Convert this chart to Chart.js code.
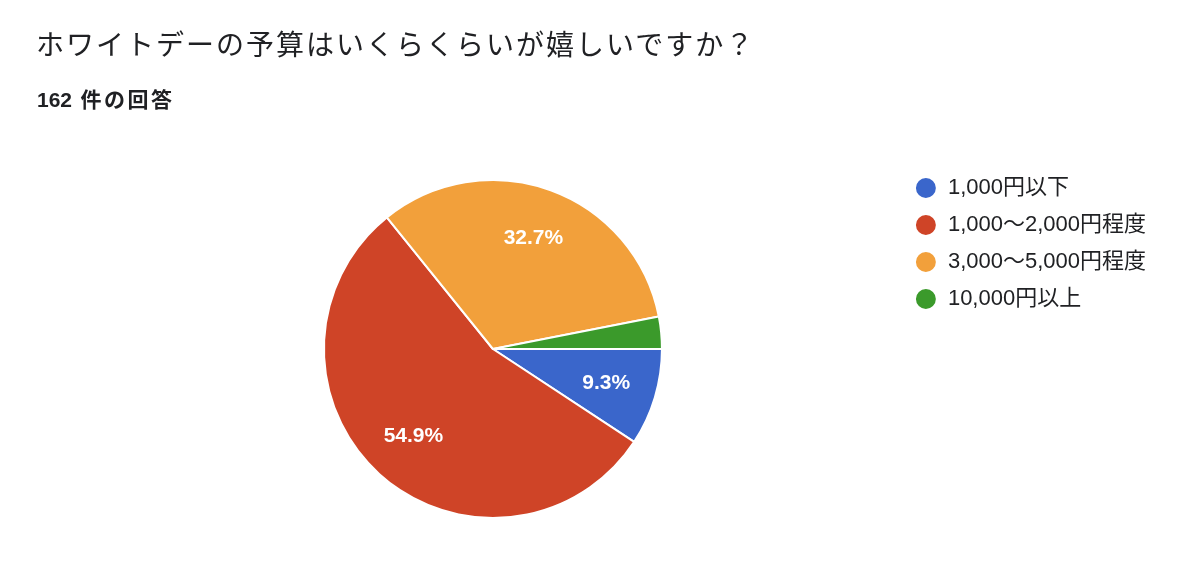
<!DOCTYPE html>
<html>
<head>
<meta charset="utf-8">
<script src="https://cdn.jsdelivr.net/npm/chart.js@4/dist/chart.umd.min.js"></script>
<style>
  html, body { margin: 0; padding: 0; background: #ffffff; }
  #wrap { position: relative; width: 1200px; height: 574px; overflow: hidden; background: #fff; }
  #title { position: absolute; left: 36px; top: 26px; line-height: 40px; font-size: 28px; letter-spacing: 2px; color: #202124;
           font-family: "Liberation Sans", "Noto Sans CJK JP", sans-serif; white-space: nowrap; }
  #subtitle { position: absolute; left: 37px; top: 85px; line-height: 30px; font-size: 21px; font-weight: 700; color: #202124;
              font-family: "Liberation Sans", "Noto Sans CJK JP", sans-serif; white-space: nowrap; }
  #subtitle .jp { letter-spacing: 2.5px; }
  #c { position: absolute; left: 0; top: 0; }
</style>
</head>
<body>
<div id="wrap">
  <canvas id="c" width="1200" height="574"></canvas>
  <div id="title">ホワイトデーの予算はいくらくらいが嬉しいですか？</div>
  <div id="subtitle">162<span class="jp"> 件の回答</span></div>
</div>
<script>
const categories = ["1,000円以下", "1,000〜2,000円程度", "3,000〜5,000円程度", "10,000円以上"];
const responses = [15, 89, 53, 5];
const sliceColors = ["#3a66cb", "#cf4427", "#f2a03b", "#3b9a2b"];

const FONT = '"Liberation Sans", "Noto Sans CJK JP", sans-serif';

const pieLabels = {
  id: 'pieLabels',
  afterDatasetsDraw(chart) {
    const ctx = chart.ctx;
    const meta = chart.getDatasetMeta(0);
    const data = chart.data.datasets[0].data;
    const total = data.reduce((a, b) => a + b, 0);
    ctx.save();
    ctx.fillStyle = '#ffffff';
    ctx.font = 'bold 21px ' + FONT;
    ctx.textAlign = 'center';
    ctx.textBaseline = 'middle';
    meta.data.forEach((arc, i) => {
      const pct = data[i] / total * 100;
      if (pct < 5) return;
      const p = arc.getProps(['x', 'y', 'startAngle', 'endAngle', 'outerRadius'], true);
      const mid = (p.startAngle + p.endAngle) / 2;
      const r = p.outerRadius * 0.7;
      ctx.fillText(pct.toFixed(1) + '%', p.x + Math.cos(mid) * r, p.y + Math.sin(mid) * r);
    });
    ctx.restore();
  }
};

new Chart(document.getElementById('c'), {
  type: 'pie',
  data: {
    labels: categories,
    datasets: [{
      data: responses,
      backgroundColor: sliceColors,
      borderColor: '#ffffff',
      borderWidth: 2,
      radius: 169
    }]
  },
  options: {
    responsive: false,
    animation: false,
    rotation: 90,
    layout: { padding: { top: 162, bottom: 38, left: 86, right: 44 } },
    plugins: {
      title: { display: false },
      tooltip: { enabled: false },
      legend: {
        position: 'right',
        align: 'start',
        labels: {
          usePointStyle: true,
          pointStyle: 'circle',
          boxWidth: 22,
          boxHeight: 15.5,
          padding: 15,
          color: '#202124',
          font: { size: 22, family: FONT }
        }
      }
    }
  },
  plugins: [pieLabels]
});
</script>
</body>
</html>
